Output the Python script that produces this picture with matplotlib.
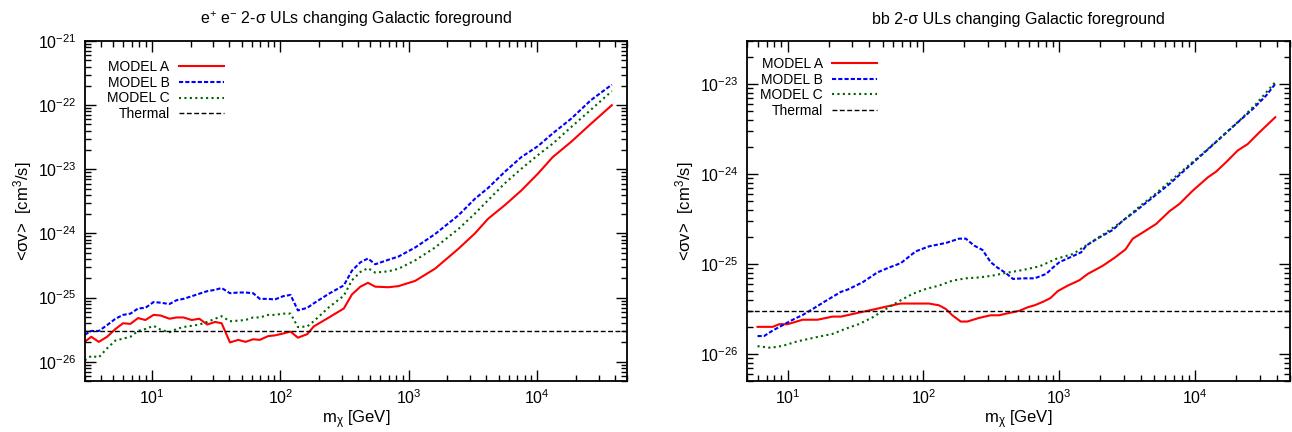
import numpy as np
import matplotlib
matplotlib.use('Agg')
import matplotlib.pyplot as plt
from matplotlib.ticker import FixedLocator, LogFormatterSciNotation, NullFormatter

plt.rcParams['font.family'] = ['Liberation Sans', 'DejaVu Sans']
plt.rcParams['mathtext.fontset'] = 'custom'
plt.rcParams['mathtext.rm'] = 'Liberation Sans'
plt.rcParams['mathtext.it'] = 'Liberation Sans:italic'
plt.rcParams['mathtext.sf'] = 'Liberation Sans'

# e+ e- channel, all models on one mass grid [GeV], sigma v in units of 1e-26 cm^3/s
mass_ee = [3.0, 3.37, 3.86, 4.48, 5.2, 5.96, 6.8, 7.8, 8.9, 10.3, 11.7, 13.7, 15.6, 17.6,
           20.4, 23.4, 27.0, 31.0, 34.9, 40.5, 47.0, 53.6, 61.4, 69.2, 80.4, 90.4, 105, 120,
           137, 162, 182, 239, 312, 361, 420, 481, 548, 695, 832, 1120, 1600, 2430, 3270,
           4150, 5580, 7520, 10100, 13200, 18400, 26200, 38100]
ee_model_a = [2.04, 2.45, 2.04, 2.45, 3.24, 3.98, 3.89, 4.79, 4.47, 5.37, 5.25, 4.68, 4.90,
              4.90, 4.47, 4.68, 3.80, 4.17, 3.98, 2.0, 2.19, 2.04, 2.24, 2.19, 2.51, 2.57,
              2.75, 2.95, 2.37, 2.69, 3.55, 4.90, 6.76, 11.2, 14.8, 17.0, 14.8, 14.5, 15.1,
              18.2, 28.2, 57.5, 100, 170, 275, 468, 851, 1550, 2690, 5130, 10000]
ee_model_b = [2.63, 3.02, 3.02, 3.72, 4.68, 5.37, 5.62, 6.76, 6.92, 8.51, 8.32, 7.94, 9.12,
              9.55, 10.5, 11.5, 12.6, 13.2, 14.1, 11.7, 12.0, 12.0, 11.7, 9.55, 9.55, 9.33,
              10.5, 11.0, 6.31, 6.92, 8.13, 11.5, 15.5, 26.3, 35.5, 40.7, 33.1, 38.9, 43.7,
              60.3, 97.7, 191, 347, 513, 912, 1550, 2290, 3630, 6170, 12000, 20900]
ee_model_c = [1.05, 1.23, 1.17, 1.62, 2.14, 2.29, 2.45, 3.02, 3.24, 3.63, 3.16, 2.88, 3.24,
              3.47, 3.63, 3.80, 4.17, 4.68, 5.13, 4.27, 4.37, 4.47, 4.90, 4.90, 5.37, 5.37,
              5.62, 5.62, 3.47, 3.55, 4.27, 7.08, 10.7, 18.6, 25.1, 28.8, 24.5, 25.7, 28.2,
              38.0, 60.3, 117, 204, 331, 603, 1020, 1660, 2510, 4570, 8510, 16600]

# b bbar channel, each model with its own mass points
bb_mass_a = [6.0, 7.76, 8.67, 10.0, 12.9, 16.6, 21.4, 24.7, 33.6, 44.6, 55.8, 68, 87.7, 110,
             130, 146, 163, 188, 210, 256, 312, 360, 431, 510, 588, 658, 759, 859, 977, 1156,
             1410, 1622, 1870, 2090, 2550, 3070, 3475, 4120, 5160, 6470, 7670, 9600, 12400,
             14260, 16900, 20560, 24380, 29700, 38900]
bb_model_a = [2.0, 2.0, 2.14, 2.14, 2.40, 2.40, 2.60, 2.60, 2.88, 3.16, 3.41, 3.63, 3.63, 3.63,
              3.47, 3.16, 2.69, 2.29, 2.29, 2.51, 2.69, 2.69, 2.86, 3.02, 3.31, 3.47, 3.80,
              4.17, 5.01, 5.75, 6.61, 7.76, 8.71, 9.55, 11.7, 14.5, 19.1, 22.4, 27.8, 38.5,
              46.5, 65.2, 91.6, 106, 135, 182, 215, 290, 427]
bb_mass_b = [6.0, 6.7, 7.76, 9.2, 10.9, 12.9, 15.3, 19.1, 24.7, 27.6, 35.6, 45.9, 55.8, 68,
             87.7, 110, 146, 183, 205, 236, 272, 312, 350, 403, 456, 540, 658, 802, 898, 1005,
             1225, 1452, 1580, 1980, 2480, 2935, 3680, 4880, 6470, 8590, 11400, 15100, 20000,
             26550, 33270, 38900]
bb_model_b = [1.58, 1.58, 1.82, 2.09, 2.40, 2.71, 3.16, 3.89, 4.90, 5.18, 6.25, 8.07, 9.12,
              10.2, 13.8, 15.7, 17.1, 19.1, 19.1, 16.0, 14.3, 10.5, 9.12, 7.94, 6.81, 6.92,
              6.92, 7.76, 9.12, 10.5, 12.0, 13.5, 16.0, 19.8, 23.9, 30.3, 39.1, 55.0, 77.4,
              114, 167, 245, 360, 527, 741, 1000]
bb_mass_c = [6.0, 7.5, 9.2, 11.8, 16.1, 21.4, 26.8, 33.6, 42.2, 52.9, 66, 83, 104, 130, 163,
             205, 256, 321, 403, 540, 716, 950, 1259, 1670, 2220, 2940, 3890, 5160, 6840, 9080,
             12050, 15960, 21180, 28120, 38900]
bb_model_c = [1.22, 1.17, 1.23, 1.38, 1.53, 1.67, 1.91, 2.15, 2.55, 3.16, 3.85, 4.65, 5.27,
              5.75, 6.52, 6.92, 7.08, 7.41, 7.94, 8.57, 9.42, 11.4, 12.9, 17.0, 22.4, 30.2,
              43.4, 61.0, 87.9, 127, 182, 267, 391, 600, 1050]

thermal = 3.0e-26
unit = 1e-26


def log_ticks(lo, hi):
    # decades and 2..9 subdivisions that fall inside [lo, hi]
    k0, k1 = int(np.floor(np.log10(lo))), int(np.ceil(np.log10(hi)))
    major = [10.0 ** k for k in range(k0, k1 + 1) if lo <= 10.0 ** k * 1.0000001 and 10.0 ** k <= hi * 1.0000001]
    minor = [s * 10.0 ** k for k in range(k0, k1 + 1) for s in range(2, 10)
             if lo <= s * 10.0 ** k <= hi]
    return major, minor


def draw_panel(ax, curves, title, xlim, ylim, legend_anchor):
    ma, a, mb, b, mc, c = curves
    ax.plot(ma, np.array(a) * unit, color='#ff0000', lw=1.5, label='MODEL A')
    ax.plot(mb, np.array(b) * unit, color='#0000ff', lw=1.5, dashes=(2, 1), label='MODEL B')
    ax.plot(mc, np.array(c) * unit, color='#006400', lw=1.5, dashes=(1, 1.6), label='MODEL C')
    ax.axhline(thermal, color='black', lw=1.0, dashes=(3.5, 1.8), label='Thermal')

    ax.set_xscale('log')
    ax.set_yscale('log')
    ax.set_xlim(*xlim)
    ax.set_ylim(*ylim)

    for axis, lim in ((ax.xaxis, xlim), (ax.yaxis, ylim)):
        major, minor = log_ticks(*lim)
        axis.set_major_locator(FixedLocator(major))
        axis.set_minor_locator(FixedLocator(minor))
        axis.set_major_formatter(LogFormatterSciNotation())
        axis.set_minor_formatter(NullFormatter())
    ax.tick_params(which='both', direction='in', top=True, right=True, labelsize=11.5)
    ax.tick_params(which='major', length=8, width=1.0)
    ax.tick_params(which='minor', length=4, width=1.0)
    ax.tick_params(axis='y', pad=6)
    ax.tick_params(axis='x', pad=5)
    for s in ax.spines.values():
        s.set_linewidth(1.3)

    ax.set_title(title, fontsize=11.5, pad=12)
    ax.set_xlabel('m$_{\\mathrm{χ}}$ [GeV]', fontsize=12, labelpad=1)
    ax.set_ylabel('<σv>  [cm$^3$/s]', fontsize=12, labelpad=3)

    ax.legend(loc='upper left', bbox_to_anchor=legend_anchor, frameon=False,
              markerfirst=False, fontsize=10, handlelength=3.2, handletextpad=0.7,
              labelspacing=0.12, borderpad=0, borderaxespad=0)


fig = plt.figure(figsize=(12.92, 4.32), dpi=100)
ax1 = fig.add_axes([0.0656, 0.118, 0.4197, 0.787])
ax2 = fig.add_axes([0.578, 0.118, 0.4205, 0.787])

draw_panel(ax1, (mass_ee, ee_model_a, mass_ee, ee_model_b, mass_ee, ee_model_c),
           'e$^{+}$ e$^{-}$ 2-σ ULs changing Galactic foreground',
           (3, 5e4), (5e-27, 1e-21), (0.041, 0.944))
draw_panel(ax2, (bb_mass_a, bb_model_a, bb_mass_b, bb_model_b, bb_mass_c, bb_model_c),
           'bb 2-σ ULs changing Galactic foreground',
           (5, 5e4), (5e-27, 3e-23), (0.0245, 0.953))

fig.savefig('out.png', dpi=100)
